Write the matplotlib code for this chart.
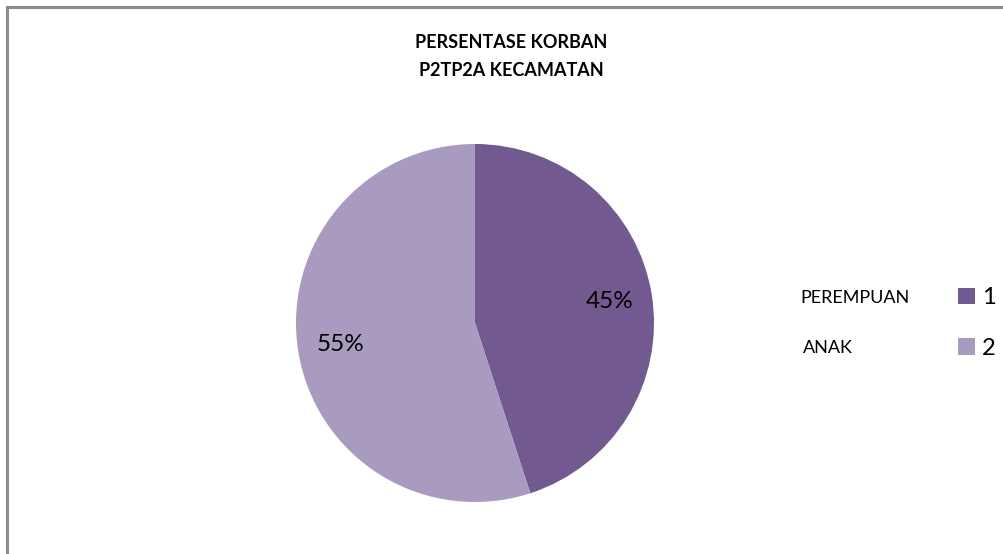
import matplotlib.pyplot as plt
from matplotlib.patches import Patch, Rectangle

plt.rcParams['font.family'] = ['Lato', 'DejaVu Sans']

# data
categories = ['PEREMPUAN', 'ANAK']
legend_keys = ['1', '2']
values = [45, 55]
colors = ['#72598F', '#A99BBF']

fig = plt.figure(figsize=(10.04, 5.54), dpi=100)

# chart frame
fig.patches.append(Rectangle((7 / 1004, -0.1), 1.1, 1.1 - 7 / 554, transform=fig.transFigure,
                             fill=False, edgecolor='#8c8c8c', linewidth=2.2))

cx, cy, r = 475, 323, 179
ax = fig.add_axes([(cx - r) / 1004, 1 - (cy + r) / 554, 2 * r / 1004, 2 * r / 554])
wedges, texts, autotexts = ax.pie(values, colors=colors, startangle=90, counterclock=False,
                                  autopct='%1.0f%%', pctdistance=0.76, radius=1.0,
                                  textprops={'fontsize': 17.5, 'color': 'black'})
ax.set_xlim(-1, 1)
ax.set_ylim(-1, 1)
ax.set_aspect('equal')

fig.text(511 / 1004, 1 - 43 / 554, 'PERSENTASE KORBAN', ha='center', va='center',
         fontsize=13, fontweight='bold')
fig.text(511 / 1004, 1 - 70 / 554, 'P2TP2A KECAMATAN', ha='center', va='center',
         fontsize=13, fontweight='bold')

handles = [Patch(facecolor=c) for c in colors]
fig.legend(handles, legend_keys, loc='center left', bbox_to_anchor=(937 / 1004, 1 - 323 / 554),
           frameon=False, fontsize=17, handlelength=0.7, handleheight=0.7,
           handletextpad=0.3, labelspacing=1.25)

fig.text(800 / 1004, 1 - 298 / 554, categories[0], ha='left', va='center', fontsize=13)
fig.text(803 / 1004, 1 - 348 / 554, categories[1], ha='left', va='center', fontsize=13)

fig.savefig('out.png', dpi=100)
